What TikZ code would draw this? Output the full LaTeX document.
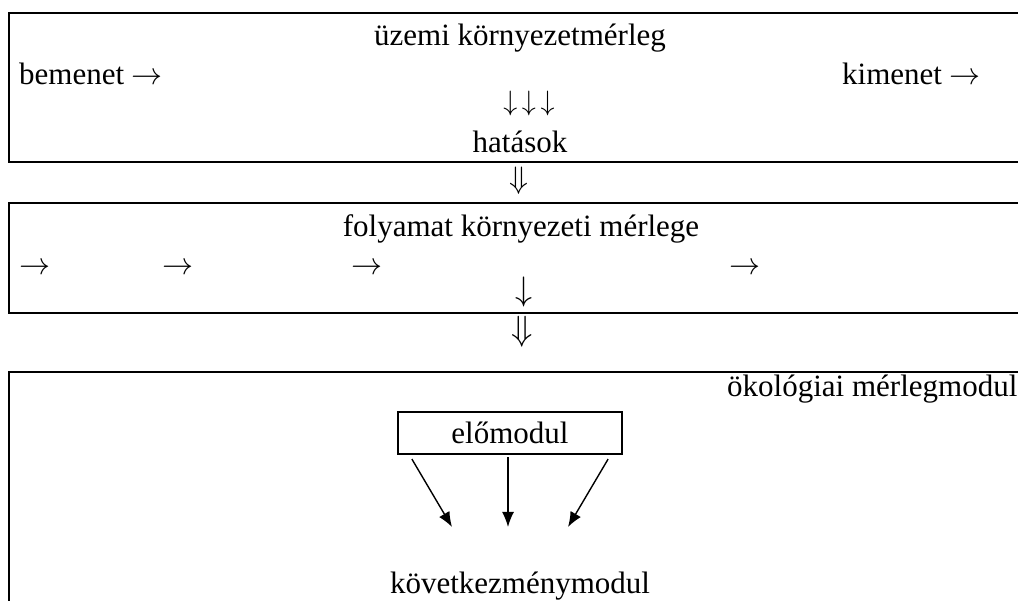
\documentclass[tikz,border=0pt]{standalone}
\usepackage{graphicx}
\usepackage{fontspec}
\setmainfont{Liberation Serif}
\usetikzlibrary{arrows.meta,calc}
\newcommand\symar[2]{\scalebox{#1}{\fontsize{10}{12}\selectfont$#2$}}
\begin{document}
\begin{tikzpicture}[x=1pt,y=-1pt,
  frame/.style={line width=2.8pt},
  lbl/.style={inner sep=0pt,anchor=base,font=\fontsize{31}{37}\selectfont},
  lblw/.style={lbl,anchor=base west},
  conn/.style={line width=1.4pt,-{Latex[length=15pt,width=12pt]}}]
\useasboundingbox (0,0) rectangle (1018,601);
% box 1
\draw[frame] (1018,13) -- (9,13) -- (9,162) -- (1018,162);
\node[lbl] (t1) at (520,46) {üzemi környezetmérleg};
\node[lblw] (in) at (19,85) {bemenet \symar{3.1}{\rightarrow}};
\node[lblw] (out) at (842,85) {kimenet \symar{3.1}{\rightarrow}};
\node[lbl] (ddd) at (529,111) {\symar{2.8}{\downarrow\mkern3mu\downarrow\mkern3mu\downarrow}};
\node[lbl] (hat) at (520,153) {hatások};
\node[lbl] (dd1) at (519,189) {\symar{3.1}{\Downarrow}};
% box 2
\draw[frame] (1018,203) -- (9,203) -- (9,313) -- (1018,313);
\node[lbl] (t2) at (521,237) {folyamat környezeti mérlege};
\node[lblw] (a1) at (19,275) {\symar{3.1}{\rightarrow}};
\node[lblw] (a2) at (162,275) {\symar{3.1}{\rightarrow}};
\node[lblw] (a3) at (351,275) {\symar{3.1}{\rightarrow}};
\node[lblw] (a4) at (729,275) {\symar{3.1}{\rightarrow}};
\node[lbl] (d2) at (524,301) {\symar{3.4}{\downarrow}};
\node[lbl] (dd2) at (522,341) {\symar{3.5}{\Downarrow}};
% box 3
\draw[frame] (1018,372) -- (9,372) -- (9,601);
\node[lblw] (t3) at (727,397) {ökológiai mérlegmodul};
\node[draw,line width=2.2pt,minimum width=224pt,minimum height=42pt,inner sep=0pt,font=\fontsize{31}{37}\selectfont] (elo) at (510,433) {előmodul};
\node[lbl] (kov) at (520,593) {következménymodul};
\coordinate (tl) at (452,527);
\coordinate (tm) at (508,527);
\coordinate (tr) at (568,527);
\draw[conn] ($(elo.south west)+(15,4)$) -- (tl);
\draw[conn] ($(elo.south)+(-2,2)$) -- (tm);
\draw[conn] ($(elo.south east)+(-15,4)$) -- (tr);
\end{tikzpicture}
\end{document}
